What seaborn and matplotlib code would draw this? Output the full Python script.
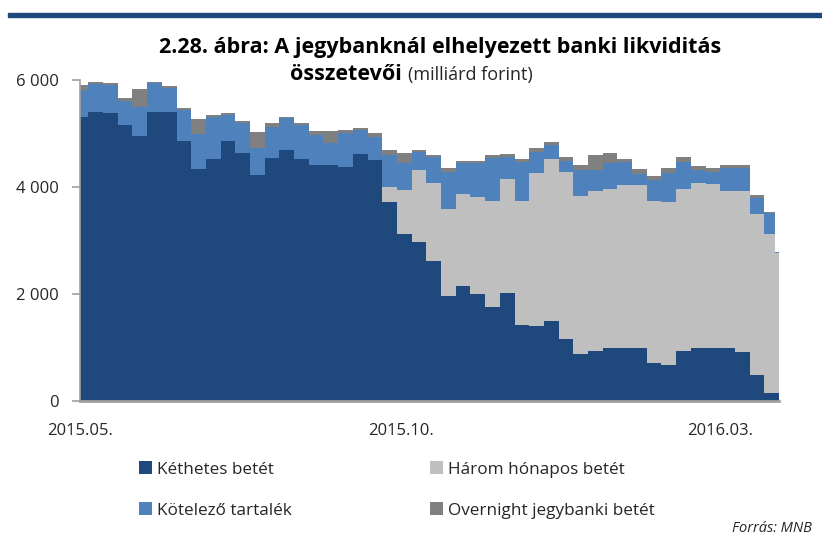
import matplotlib
matplotlib.use("Agg")
import matplotlib.pyplot as plt
from matplotlib.ticker import FuncFormatter
from matplotlib.patches import Patch, Rectangle
import seaborn as sns
import pandas as pd

sns.set_style("white")
plt.rcParams['font.family'] = ['Open Sans', 'DejaVu Sans']

# weekly observations (tender weeks), plus the last days of the period
dates = list(pd.date_range('2015-04-28', periods=48, freq='7D')) + \
    [pd.Timestamp('2016-03-27'), pd.Timestamp('2016-03-29')]

ketheti = [5300, 5410, 5375, 5150, 4950, 5410, 5410, 4860, 4340, 4515,
           4865, 4630, 4220, 4535, 4690, 4515, 4410, 4410, 4380, 4615,
           4505, 3725, 3120, 2980, 2615, 1960, 2150, 1995, 1750, 2025,
           1420, 1400, 1500, 1150, 870, 935, 985, 985, 985, 715,
           675, 935, 985, 985, 985, 910, 485, 155, 155, 155]
harom_honapos = [0, 0, 0, 0, 0, 0, 0, 0, 0, 0,
                 0, 0, 0, 0, 0, 0, 0, 0, 0, 0,
                 0, 270, 825, 1340, 1465, 1625, 1715, 1825, 1990, 2120,
                 2320, 2855, 3015, 3135, 2960, 2995, 2970, 3050, 3050, 3025,
                 3040, 3020, 3095, 3070, 2945, 3020, 3010, 2965, 2605, 2605]
kotelezo = [520, 520, 525, 460, 550, 530, 435, 580, 660, 800,
            480, 565, 510, 595, 595, 635, 560, 410, 625, 450,
            425, 605, 505, 340, 485, 700, 575, 620, 795, 420,
            735, 405, 270, 200, 490, 390, 485, 440, 210, 390,
            540, 520, 240, 230, 420, 420, 300, 390, 20, 20]
overnight = [80, 30, 50, 50, 330, 30, 35, 30, 280, 30,
             35, 35, 300, 60, 30, 40, 70, 220, 55, 35,
             75, 90, 185, 30, 35, 65, 50, 50, 65, 55,
             55, 60, 65, 80, 90, 280, 190, 40, 95, 75,
             95, 90, 65, 65, 60, 60, 55, 30, 10, 10]

labels = ["Kéthetes betét", "Három hónapos betét", "Kötelező tartalék",
          "Overnight jegybanki betét"]
colors = ["#1f497d", "#bfbfbf", "#4f81bd", "#808080"]

tick_dates = ['2015-05-01', '2015-10-01', '2016-03-01']
tick_labels = ['2015.05.', '2015.10.', '2016.03.']

fig = plt.figure(figsize=(8.22, 5.42), dpi=100)
ax = fig.add_axes([80 / 822, 1 - 401 / 542, (779 - 80) / 822, (401 - 80) / 542])

ax.stackplot(dates, ketheti, harom_honapos, kotelezo, overnight,
             colors=colors, labels=labels, step='post', linewidth=0)

ax.set_xlim(pd.Timestamp('2015-05-01'), pd.Timestamp('2016-03-29'))
ax.set_ylim(0, 6000)
ax.set_yticks([0, 2000, 4000, 6000])
ax.yaxis.set_major_formatter(FuncFormatter(lambda v, p: f"{int(v):,}".replace(",", " ")))
ax.set_xticks(pd.to_datetime(tick_dates))
ax.set_xticklabels(tick_labels)

for s in ['top', 'right']:
    ax.spines[s].set_visible(False)
ax.spines['left'].set_color('#a0a0a0')
ax.spines['left'].set_linewidth(1.2)
ax.spines['bottom'].set_color('#a0a0a0')
ax.spines['bottom'].set_linewidth(2)
ax.spines['bottom'].set_zorder(5)
ax.tick_params(axis='y', left=True, length=6, width=1.2, color='#a0a0a0',
               labelsize=12, labelcolor='#262626', pad=9)
ax.tick_params(axis='x', bottom=False, labelsize=12, labelcolor='#262626', pad=12)

# top rule
fig.patches.append(Rectangle((8 / 822, 1 - 17 / 542), 1, 4 / 542,
                             transform=fig.transFigure, color='#1f497d', zorder=10))

fig.text(0.536, 1 - 47 / 542, "2.28. ábra: A jegybanknál elhelyezett banki likviditás",
         ha='center', va='center', fontsize=15.5, fontweight='bold', color='black')
fig.text(402 / 822, 1 - 75 / 542, "összetevői", ha='right', va='center',
         fontsize=15.5, fontweight='bold', color='black')
fig.text(408 / 822, 1 - 75 / 542, "(milliárd forint)", ha='left', va='center',
         fontsize=13, color='#262626')

order = [0, 2, 1, 3]
handles = [Patch(facecolor=colors[i], edgecolor='none') for i in order]
fig.legend(handles, [labels[i] for i in order], ncol=2, loc='center',
           bbox_to_anchor=(0.483, 1 - 490 / 542), frameon=False, fontsize=12.3,
           handlelength=0.75, handleheight=0.75, handletextpad=0.3,
           columnspacing=8.1, labelspacing=1.45, labelcolor='#262626')

fig.text(0.988, 1 - 528 / 542, "Forrás: MNB", ha='right', va='center',
         fontsize=10.5, style='italic', color='#262626')

fig.savefig("out.png", dpi=100)
